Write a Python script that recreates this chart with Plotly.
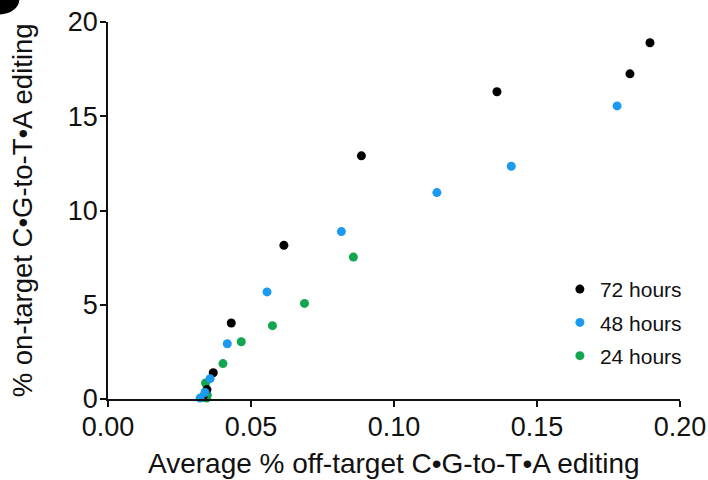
import plotly.graph_objects as go

# Average % off-target vs % on-target C•G-to-T•A editing, per time point
x_72h = [0.1895, 0.1825, 0.136, 0.0886, 0.0615, 0.0431, 0.0368, 0.0346, 0.0332]
y_72h = [18.9, 17.25, 16.3, 12.9, 8.15, 4.03, 1.39, 0.5, 0.1]

x_48h = [0.178, 0.141, 0.115, 0.0816, 0.0556, 0.0417, 0.0357, 0.0339, 0.0322]
y_48h = [15.55, 12.35, 10.95, 8.88, 5.68, 2.93, 1.08, 0.35, 0.05]

x_24h = [0.0858, 0.0687, 0.0575, 0.0466, 0.0402, 0.0341, 0.0347, 0.0345]
y_24h = [7.53, 5.07, 3.89, 3.04, 1.88, 0.85, 0.2, 0.05]

x_ticks = [0.00, 0.05, 0.10, 0.15, 0.20]
y_ticks = [0, 5, 10, 15, 20]

FONT = "Liberation Sans, Arial, sans-serif"
INK = "#111111"

series = [
    ("24 hours", x_24h, y_24h, "#12a650", 3),
    ("72 hours", x_72h, y_72h, "#000000", 1),
    ("48 hours", x_48h, y_48h, "#1b9af0", 2),
]

fig = go.Figure()
for name, xs, ys, color, rank in series:
    fig.add_trace(go.Scatter(
        x=xs, y=ys, mode="markers", name=name,
        legendgroup=name, legendrank=rank,
        marker=dict(size=9, color=color, line=dict(width=0)),
        cliponaxis=False,
    ))

axis_common = dict(
    showgrid=False, zeroline=False, showline=True, automargin=False,
    linecolor=INK, linewidth=1.5,
    ticks="outside", ticklen=6, tickwidth=1.5, tickcolor=INK,
    tickfont=dict(family=FONT, size=27, color=INK),
    ticklabelstandoff=-3,
)

fig.update_layout(
    width=708, height=480,
    margin=dict(l=108, r=28, t=22, b=81),
    plot_bgcolor="white", paper_bgcolor="white",
    font=dict(family=FONT, color=INK),
    xaxis=dict(
        range=[0, 0.2], tickvals=x_ticks,
        ticktext=[f"{v:.2f}" for v in x_ticks],
        **axis_common,
    ),
    yaxis=dict(
        range=[0, 20], tickvals=y_ticks,
        **axis_common,
    ),
    legend=dict(
        x=0.79, y=0.345, xanchor="left", yanchor="top",
        font=dict(family=FONT, size=21, color=INK),
        bgcolor="rgba(0,0,0,0)", tracegroupgap=3,
        itemsizing="trace",
    ),
    showlegend=True,
)

# Axis titles
fig.add_annotation(
    text="Average % off-target C•G-to-T•A editing",
    xref="paper", yref="paper", x=0.5, y=-0.17,
    xanchor="center", yanchor="middle", showarrow=False,
    font=dict(family=FONT, size=28, color=INK),
)
fig.add_annotation(
    text="% on-target C•G-to-T•A editing",
    xref="paper", yref="paper", x=-0.149, y=0.5, textangle=-90,
    xanchor="center", yanchor="middle", showarrow=False,
    font=dict(family=FONT, size=27.5, color=INK),
)

# Panel marker peeking in at the top-left corner
fig.add_shape(type="circle", xref="paper", yref="paper",
              x0=-0.225, x1=-0.155, y0=1.02, y1=1.1,
              fillcolor="black", line=dict(width=0), layer="above")

fig.write_html("out.html")
